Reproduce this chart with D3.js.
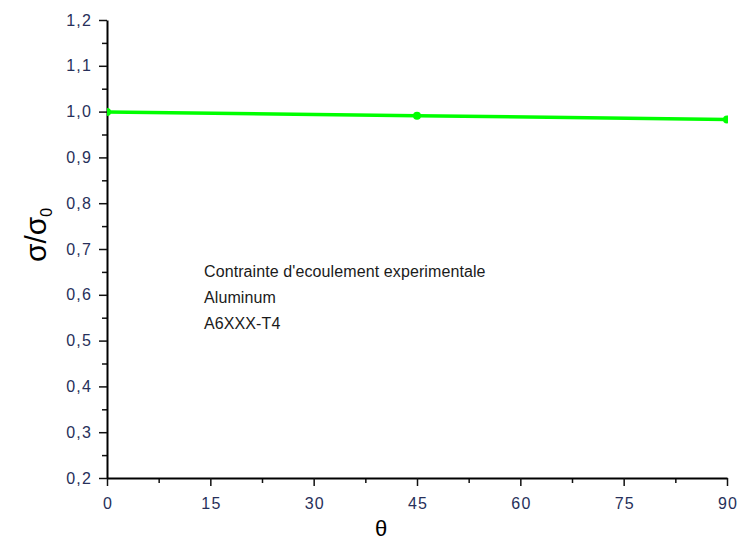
<!DOCTYPE html>
<html>
<head>
<meta charset="utf-8">
<script src="https://cdn.jsdelivr.net/npm/d3@7"></script>
<style>
  body { margin: 0; background: #fff; }
  text { font-family: "Liberation Sans", Arial, sans-serif; }
</style>
</head>
<body>
<div id="chart"></div>
<script>
/* chart values */
let angles = [0, 45, 90];
let ratios = [0.999, 0.991, 0.983];
let xTicks = [0, 15, 30, 45, 60, 75, 90];
let yTicks = [0.2, 0.3, 0.4, 0.5, 0.6, 0.7, 0.8, 0.9, 1.0, 1.1, 1.2];
let notes = ["Contrainte d'ecoulement experimentale", "Aluminum", "A6XXX-T4"];

let width = 743;
let height = 544;
let margin = {top:20, bottom:66, right:16, left:107};
let pWidth = width - margin.left - margin.right;
let pHeight = height - margin.top - margin.bottom;

let svg = d3.select("#chart").append("svg")
            .attr("width", width)
            .attr("height", height);

let x = d3.scaleLinear().domain([0, 90]).range([0, pWidth]);
let y = d3.scaleLinear().domain([0.2, 1.2]).range([pHeight, 0]);

let plot = svg.append("g")
              .attr("transform", `translate(${margin.left}, ${margin.top})`);

svg.append("clipPath").attr("id", "clip")
   .append("rect").attr("width", pWidth + 1).attr("height", pHeight);

// minor ticks
plot.append("g")
    .attr("transform", `translate(0, ${pHeight})`)
    .call(d3.axisBottom(x).tickValues(d3.range(7.5, 90, 15)).tickSize(5).tickFormat(""))
    .call(g => g.select(".domain").remove());
plot.append("g")
    .call(d3.axisLeft(y).tickValues(d3.range(0.25, 1.2, 0.1)).tickSize(5).tickFormat(""))
    .call(g => g.select(".domain").remove());

let fmt = d => d3.format(".1f")(d).replace(".", ",");

let xAxis = plot.append("g")
    .attr("transform", `translate(0, ${pHeight})`)
    .call(d3.axisBottom(x).tickValues(xTicks).tickSize(8).tickSizeOuter(0).tickPadding(12));
let yAxis = plot.append("g")
    .call(d3.axisLeft(y).tickValues(yTicks).tickSize(8).tickSizeOuter(0).tickFormat(fmt).tickPadding(7));

[xAxis, yAxis].forEach(a => {
  a.selectAll("text")
   .style("font-size", "16px")
   .style("letter-spacing", "1.2px")
   .attr("fill", "#27305a");
  a.select(".domain").attr("stroke-width", 2);
});
xAxis.selectAll("text").attr("dx", "0.6px");
plot.selectAll(".tick line").attr("stroke", "#111").attr("stroke-width", 1.5);

// data
let line = d3.line().x((d, i) => x(angles[i])).y(d => y(d));
let data = plot.append("g").attr("clip-path", "url(#clip)");
data.append("path")
    .attr("d", line(ratios))
    .attr("fill", "none")
    .attr("stroke", "#00ff00")
    .attr("stroke-width", 3.5);
data.selectAll("circle")
    .data(ratios)
    .join("circle")
    .attr("cx", (d, i) => x(angles[i]))
    .attr("cy", d => y(d))
    .attr("r", 4)
    .attr("fill", "#00ff00");

// annotation
svg.append("g").selectAll("text")
   .data(notes)
   .join("text")
   .attr("x", 204)
   .attr("y", (d, i) => 277 + i * 26)
   .style("font-size", "16px")
   .style("letter-spacing", "0.1px")
   .attr("fill", "#1a1a1a")
   .text(d => d);

// axis titles
svg.append("text")
   .attr("x", margin.left + x(45) - 36)
   .attr("y", 536)
   .attr("text-anchor", "middle")
   .style("font-size", "22px")
   .text("θ");

let yl = svg.append("text")
   .attr("transform", "translate(46, 262) rotate(-90)")
   .style("font-size", "30px");
yl.append("tspan").text("σ/σ");
yl.append("tspan").attr("dy", 6).style("font-size", "16px").text("0");
</script>
</body>
</html>
